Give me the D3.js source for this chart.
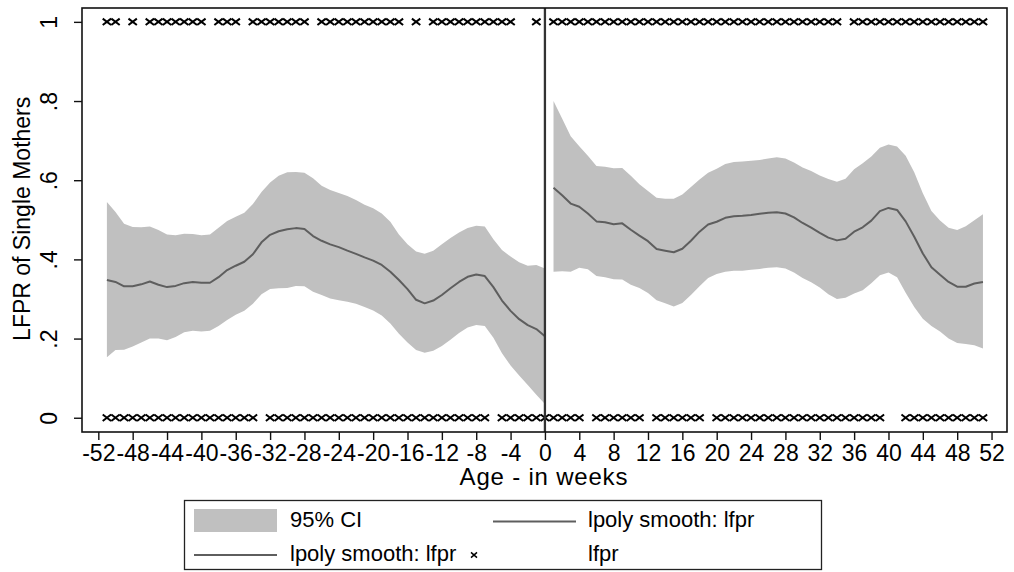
<!DOCTYPE html>
<html>
<head>
<meta charset="utf-8">
<script src="https://cdn.jsdelivr.net/npm/d3@7"></script>
<style>
  html, body { margin: 0; padding: 0; background: #fff; }
  svg { display: block; font-family: "Liberation Sans", Arial, Helvetica, sans-serif; }
</style>
</head>
<body>
<svg id="chart" width="1014" height="572"></svg>
<script>
// Weeks before birth (age <= 0): local polynomial fit and 95% band
const weeksBefore = [-51,-50,-49,-48,-47,-46,-45,-44,-43,-42,-41,-40,-39,-38,-37,-36,-35,-34,-33,-32,-31,-30,-29,-28,-27,-26,-25,-24,-23,-22,-21,-20,-19,-18,-17,-16,-15,-14,-13,-12,-11,-10,-9,-8,-7,-6,-5,-4,-3,-2,-1,0];
const fitBefore = [0.348,0.343,0.332,0.332,0.337,0.344,0.336,0.330,0.333,0.340,0.343,0.341,0.341,0.355,0.373,0.384,0.394,0.413,0.443,0.462,0.471,0.476,0.479,0.477,0.459,0.447,0.438,0.431,0.422,0.414,0.405,0.397,0.386,0.369,0.348,0.325,0.298,0.289,0.296,0.310,0.327,0.343,0.356,0.362,0.358,0.330,0.296,0.270,0.249,0.234,0.224,0.206];
const upperBefore = [0.545,0.520,0.490,0.482,0.481,0.483,0.474,0.463,0.461,0.465,0.464,0.461,0.463,0.480,0.497,0.508,0.518,0.540,0.570,0.594,0.611,0.620,0.621,0.619,0.605,0.586,0.575,0.568,0.560,0.550,0.538,0.529,0.516,0.495,0.463,0.438,0.420,0.414,0.422,0.438,0.454,0.468,0.479,0.485,0.483,0.451,0.424,0.407,0.393,0.384,0.386,0.377];
const lowerBefore = [0.153,0.171,0.172,0.180,0.190,0.200,0.200,0.196,0.204,0.216,0.220,0.218,0.220,0.232,0.247,0.260,0.270,0.288,0.312,0.325,0.327,0.328,0.333,0.332,0.318,0.310,0.301,0.297,0.293,0.288,0.280,0.271,0.258,0.238,0.212,0.190,0.171,0.164,0.169,0.181,0.197,0.214,0.228,0.234,0.232,0.202,0.163,0.132,0.107,0.083,0.058,0.035];

// Weeks after birth (age > 0)
const weeksAfter = [1,2,3,4,5,6,7,8,9,10,11,12,13,14,15,16,17,18,19,20,21,22,23,24,25,26,27,28,29,30,31,32,33,34,35,36,37,38,39,40,41,42,43,44,45,46,47,48,49,50,51];
const fitAfter = [0.581,0.562,0.541,0.533,0.516,0.496,0.494,0.489,0.491,0.475,0.460,0.446,0.426,0.422,0.418,0.427,0.447,0.470,0.488,0.495,0.505,0.509,0.510,0.512,0.515,0.518,0.519,0.516,0.506,0.492,0.480,0.467,0.455,0.448,0.452,0.470,0.481,0.498,0.522,0.530,0.525,0.496,0.457,0.415,0.380,0.361,0.343,0.331,0.331,0.339,0.343];
const upperAfter = [0.800,0.756,0.711,0.686,0.662,0.636,0.634,0.630,0.631,0.611,0.590,0.573,0.556,0.553,0.553,0.564,0.583,0.602,0.619,0.629,0.641,0.646,0.647,0.649,0.651,0.655,0.658,0.655,0.645,0.632,0.623,0.612,0.603,0.596,0.604,0.628,0.643,0.660,0.682,0.690,0.685,0.662,0.620,0.567,0.522,0.498,0.480,0.474,0.484,0.499,0.514];
const lowerAfter = [0.369,0.370,0.369,0.379,0.375,0.358,0.355,0.350,0.349,0.336,0.328,0.315,0.297,0.289,0.281,0.290,0.310,0.332,0.353,0.363,0.369,0.371,0.371,0.374,0.376,0.379,0.380,0.377,0.367,0.353,0.342,0.329,0.312,0.300,0.303,0.314,0.322,0.340,0.360,0.367,0.355,0.316,0.280,0.250,0.232,0.218,0.200,0.189,0.186,0.183,0.175];

// Observed lfpr values (0/1) by week
const weeksLfpr1 = [-51,-50,-48,-46,-45,-44,-43,-42,-41,-40,-38,-37,-36,-34,-33,-32,-31,-30,-29,-28,-26,-25,-24,-23,-22,-21,-20,-19,-18,-17,-15,-13,-12,-11,-10,-9,-8,-7,-6,-5,-4,-1,1,2,3,4,5,6,7,8,9,10,11,12,13,14,15,16,17,18,19,20,21,22,23,24,25,26,27,28,29,30,31,32,33,34,36,37,38,39,40,41,42,43,44,45,46,47,48,49,50,51];
const weeksLfpr0 = [-51,-50,-49,-48,-47,-46,-45,-44,-43,-42,-41,-40,-39,-38,-37,-36,-35,-34,-32,-31,-30,-29,-28,-27,-26,-25,-24,-23,-22,-21,-20,-19,-18,-17,-16,-15,-14,-13,-12,-11,-10,-9,-8,-7,-5,-4,-3,-2,-1,0,1,2,3,4,6,7,8,9,10,11,13,14,15,16,17,18,20,21,22,23,24,25,26,27,28,29,30,31,32,33,34,35,36,37,38,39,42,43,44,45,46,47,48,49,50,51];

// Axis ticks
const xTicks = [-52,-48,-44,-40,-36,-32,-28,-24,-20,-16,-12,-8,-4,0,4,8,12,16,20,24,28,32,36,40,44,48,52];
const yTicks = [0,0.2,0.4,0.6,0.8,1];
const yTickLabels = ["0",".2",".4",".6",".8","1"];

const legendItems = ["95% CI","lpoly smooth: lfpr","lpoly smooth: lfpr","lfpr"];

const svg = d3.select("#chart");
const plot = {left: 82, right: 1007, top: 8, bottom: 432};

const x = d3.scaleLinear().domain([-53.9, 53.8]).range([plot.left, plot.right]);
const y = d3.scaleLinear().domain([-0.036, 1.035]).range([plot.bottom, plot.top]);

const bandColor = "#c0c0c0";
const lineColor = "#5e5e5e";

function drawFit(weeks, fit, lo, hi) {
  const rows = weeks.map((w, i) => ({w, f: fit[i], lo: lo[i], hi: hi[i]}));
  svg.append("path")
    .datum(rows)
    .attr("fill", bandColor)
    .attr("d", d3.area().x(d => x(d.w)).y0(d => y(d.lo)).y1(d => y(d.hi)));
  svg.append("path")
    .datum(rows)
    .attr("fill", "none")
    .attr("stroke", lineColor)
    .attr("stroke-width", 2)
    .attr("stroke-linejoin", "round")
    .attr("d", d3.line().x(d => x(d.w)).y(d => y(d.f)));
}

drawFit(weeksBefore, fitBefore, lowerBefore, upperBefore);
drawFit(weeksAfter, fitAfter, lowerAfter, upperAfter);

// Scatter of observed 0/1 outcomes, drawn as small crosses
function cross(cx, cy, hw, hh) {
  return `M${cx - hw},${cy - hh}L${cx + hw},${cy + hh}M${cx - hw},${cy + hh}L${cx + hw},${cy - hh}`;
}
const pts = weeksLfpr1.map(w => ({w, v: 1})).concat(weeksLfpr0.map(w => ({w, v: 0})));
svg.append("g")
  .selectAll("path")
  .data(pts)
  .join("path")
  .attr("d", d => cross(x(d.w), y(d.v), 4.2, 3.2))
  .attr("stroke", "#000")
  .attr("stroke-width", 2)
  .attr("fill", "none");

// Reference line at birth
svg.append("line")
  .attr("x1", x(0)).attr("x2", x(0))
  .attr("y1", plot.top).attr("y2", plot.bottom)
  .attr("stroke", "#333")
  .attr("stroke-width", 2.3);

// Plot frame
svg.append("rect")
  .attr("x", plot.left).attr("y", plot.top)
  .attr("width", plot.right - plot.left).attr("height", plot.bottom - plot.top)
  .attr("fill", "none").attr("stroke", "#111").attr("stroke-width", 1.6);

// X axis
const xAxis = svg.append("g")
  .attr("transform", `translate(0,${plot.bottom})`)
  .call(d3.axisBottom(x).tickValues(xTicks).tickSize(8).tickPadding(4).tickFormat(d => String(d)));
xAxis.select(".domain").remove();
xAxis.selectAll(".tick line").attr("stroke", "#111").attr("stroke-width", 1.4);
xAxis.selectAll(".tick text")
  .attr("fill", "#000")
  .style("font-size", "23px")
  .style("font-family", "'Liberation Sans', Arial, sans-serif")
  .attr("dy", null)
  .attr("y", 28.5);

// Y axis
const yAxis = svg.append("g")
  .attr("transform", `translate(${plot.left},0)`)
  .call(d3.axisLeft(y).tickValues(yTicks).tickSize(8).tickFormat((d, i) => yTickLabels[i]));
yAxis.select(".domain").remove();
yAxis.selectAll(".tick line").attr("stroke", "#111").attr("stroke-width", 1.4);
yAxis.selectAll(".tick text")
  .attr("fill", "#000")
  .style("font-size", "23px")
  .style("font-family", "'Liberation Sans', Arial, sans-serif")
  .attr("x", null).attr("dy", null)
  .attr("text-anchor", "middle")
  .attr("transform", "translate(-25,0) rotate(-90)");

// Axis titles
svg.append("text")
  .attr("x", x(0) - 1).attr("y", 485)
  .attr("text-anchor", "middle")
  .style("font-size", "24px")
  .style("letter-spacing", "0.8px")
  .text("Age - in weeks");
svg.append("text")
  .attr("transform", `translate(30,${y(0.5) - 1}) rotate(-90)`)
  .attr("text-anchor", "middle")
  .style("font-size", "23px")
  .text("LFPR of Single Mothers");

// Legend
const lg = svg.append("g");
lg.append("rect")
  .attr("x", 184.5).attr("y", 500.5).attr("width", 637).attr("height", 69)
  .attr("fill", "#fff").attr("stroke", "#222").attr("stroke-width", 1.3);
lg.append("rect").attr("x", 194).attr("y", 509).attr("width", 83).attr("height", 23).attr("fill", bandColor);
lg.append("line").attr("x1", 493).attr("x2", 576).attr("y1", 521.5).attr("y2", 521.5)
  .attr("stroke", lineColor).attr("stroke-width", 2);
lg.append("line").attr("x1", 194).attr("x2", 277).attr("y1", 555).attr("y2", 555)
  .attr("stroke", lineColor).attr("stroke-width", 2);
lg.append("path").attr("d", cross(474, 555, 3, 2.6)).attr("stroke", "#000").attr("stroke-width", 1.5);
const legendPos = [[290, 527], [588, 527], [290, 561], [588, 561]];
lg.selectAll("text.lab")
  .data(legendItems)
  .join("text")
  .attr("class", "lab")
  .attr("x", (d, i) => legendPos[i][0])
  .attr("y", (d, i) => legendPos[i][1])
  .style("font-size", "22px")
  .text(d => d);
</script>
</body>
</html>
